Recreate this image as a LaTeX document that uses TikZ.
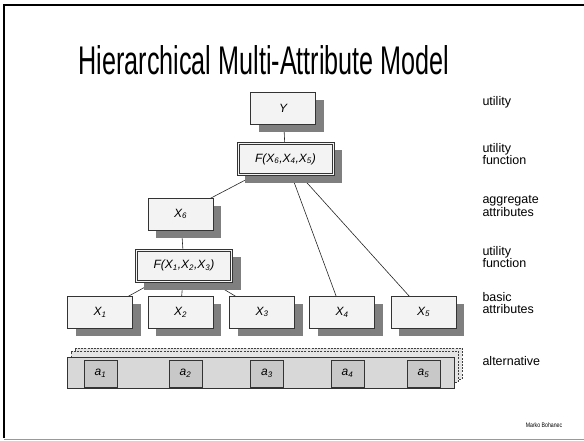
\documentclass[tikz,border=0pt]{standalone}
\usepackage{fontspec}
\setmainfont{Liberation Sans}
\usetikzlibrary{shadows,backgrounds}

\definecolor{boxfill}{HTML}{F3F3F3}
\definecolor{barfill}{HTML}{D8D8D8}
\definecolor{stackfill}{HTML}{E4E4E4}
\definecolor{altfill}{HTML}{C8C8C8}
\definecolor{shade}{HTML}{7F7F7F}

\newcommand{\var}[2]{\textit{#1}\textsubscript{\textit{#2}}}

\begin{document}
\begin{tikzpicture}[x=1pt,y=-1pt,
    attr/.style={draw=black!80,fill=boxfill,line width=0.6pt,inner sep=0pt,
      minimum width=65pt,minimum height=32pt,
      font=\fontsize{12}{12}\selectfont\itshape,
      drop shadow={shadow xshift=8pt,shadow yshift=-8pt,fill=shade,opacity=1}},
    func/.style={attr,line width=0.8pt,minimum width=97pt,minimum height=33pt},
    altbox/.style={draw=black!80,fill=altfill,line width=0.6pt,inner sep=0pt,
      minimum width=33pt,minimum height=27pt,font=\fontsize{12}{12}\selectfont},
    stack/.style={draw=black!75,fill=stackfill,dashed,dash pattern=on 2pt off 1.2pt,
      line width=0.6pt,minimum width=387pt,minimum height=31pt,inner sep=0pt},
    level/.style={anchor=west,align=left,font=\fontsize{12.5}{12.5}\selectfont},
    link/.style={draw=black!85,line width=0.6pt}]
  \useasboundingbox (0,0) rectangle (584,441);

  % frame
  \draw[line width=2pt] (4,438) -- (4,5) -- (584,5);
  \draw[black!40,line width=1pt] (4,439.5) -- (584,439.5);

  \node (title) at (264,60)
    {\scalebox{0.63}[1]{\fontsize{40}{40}\selectfont Hierarchical Multi-Attribute Model}};

  % tree
  \node[attr] (Y) at (283,108) {Y};
  \node[func] (F6) at (285.5,159) {F(\var{X}{6},\var{X}{4},\var{X}{5})};
  \node[attr] (X6) at (180.5,214) {\var{X}{6}};
  \node[func] (F1) at (184,265.5) {F(\var{X}{1},\var{X}{2},\var{X}{3})};
  \node[attr] (X1) at (100,312) {\var{X}{1}};
  \node[attr] (X2) at (180.5,312) {\var{X}{2}};
  \node[attr] (X3) at (262,312) {\var{X}{3}};
  \node[attr] (X4) at (342,312) {\var{X}{4}};
  \node[attr] (X5) at (423.5,312) {\var{X}{5}};

  % inner line of the function boxes
  \foreach \f in {F6,F1}
    \draw[black!80,line width=0.6pt] ([shift={(2.6pt,-2.6pt)}]\f.north west)
      rectangle ([shift={(-2.6pt,2.6pt)}]\f.south east);

  \begin{scope}[on background layer]
    \draw[link] (Y.center) -- (F6.center);
    \draw[link] (F6.center) -- (X6.center);
    \draw[link] (F6.center) -- (X4.center);
    \draw[link] (F6.center) -- (X5.center);
    \draw[link] (X6.center) -- (F1.center);
    \draw[link] (F1.center) -- (X1.center);
    \draw[link] (F1.center) -- (X2.center);
    \draw[link] (F1.center) -- (X3.center);
  \end{scope}

  % alternatives
  \node[stack] (back2) at (268.5,363.5) {};
  \node[stack] (back1) at (264.5,366.5) {};
  \node[stack,solid,draw=black!80,fill=barfill] (bar) at (260.5,372.5) {};
  \node[altbox] (a1) at (100.5,373.5) {\var{a}{1}};
  \node[altbox] (a2) at (185.5,373.5) {\var{a}{2}};
  \node[altbox] (a3) at (267,373.5) {\var{a}{3}};
  \node[altbox] (a4) at (347.5,373.5) {\var{a}{4}};
  \node[altbox] (a5) at (423.5,373.5) {\var{a}{5}};

  % levels
  \node[level] (l1) at (479,102) {utility};
  \node[level] (l2) at (479,154) {utility\\function};
  \node[level] (l3) at (479,206) {aggregate\\attributes};
  \node[level] (l4) at (479,257) {utility\\function};
  \node[level] (l5) at (479,303) {basic\\attributes};
  \node[level] (l6) at (479,361) {alternative};

  \node (author) at (544,425) {\scalebox{0.8}[1]{\fontsize{6.5}{6.5}\selectfont Marko Bohanec}};
\end{tikzpicture}
\end{document}
